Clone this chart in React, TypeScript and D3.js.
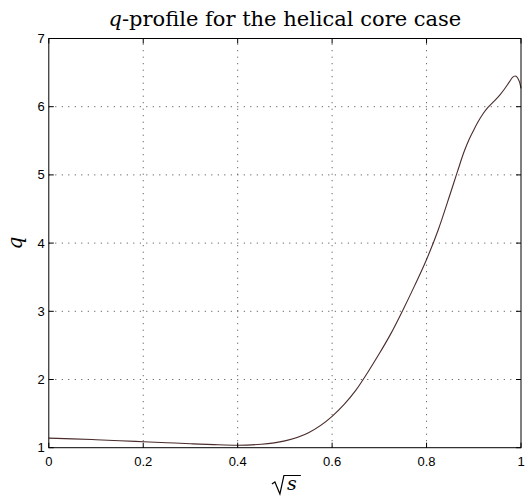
import React from "react";
import * as d3 from "d3";

// sqrt(s) positions and the safety factor q sampled along the profile
const sqrtS = [0, 0.05, 0.1, 0.15, 0.2, 0.25, 0.3, 0.35, 0.4, 0.45, 0.5, 0.55, 0.6, 0.625, 0.65, 0.675, 0.7, 0.725, 0.75, 0.775, 0.8, 0.825, 0.85, 0.865, 0.88, 0.89, 0.9, 0.91, 0.92, 0.93, 0.94, 0.955, 0.965, 0.975, 0.982, 0.988, 0.993, 0.997, 1.0];
const qValues = [1.14, 1.13, 1.117, 1.103, 1.088, 1.073, 1.058, 1.045, 1.037, 1.05, 1.1, 1.22, 1.46, 1.63, 1.84, 2.1, 2.38, 2.68, 3.02, 3.38, 3.76, 4.2, 4.72, 5.04, 5.35, 5.52, 5.66, 5.79, 5.9, 5.99, 6.06, 6.17, 6.26, 6.36, 6.43, 6.45, 6.42, 6.36, 6.27];

const xTicks = [0, 0.2, 0.4, 0.6, 0.8, 1];
const xTickLabels = ["0", "0.2", "0.4", "0.6", "0.8", "1"];
const yTicks = [1, 2, 3, 4, 5, 6, 7];
const yTickLabels = ["1", "2", "3", "4", "5", "6", "7"];

const W = 525;
const H = 496;
const left = 48.8;
const right = 521;
const top = 38.5;
const bottom = 447.7;

export default function App() {
  const x = d3.scaleLinear().domain([0, 1]).range([left, right]);
  const y = d3.scaleLinear().domain([1, 7]).range([bottom, top]);
  const pts: [number, number][] = sqrtS.map((s, i) => [s, qValues[i]]);
  const line = d3
    .line<[number, number]>()
    .x((d) => x(d[0]))
    .y((d) => y(d[1]))
    .curve(d3.curveMonotoneX);

  const tickLen = 5;
  const tickFont = "Liberation Sans, Arial, sans-serif";
  const serif = "DejaVu Serif, serif";
  const cx = (left + right) / 2;

  return (
    <svg
      width={W}
      height={H}
      viewBox={`0 0 ${W} ${H}`}
      style={{ position: "absolute", left: 0, top: 0, background: "#fff" }}
    >
      <rect x={0} y={0} width={W} height={H} fill="#fff" />
      {/* dotted grid */}
      <g stroke="#444" strokeWidth={1} strokeDasharray="1,5.5">
        {xTicks.slice(1, -1).map((t) => (
          <line key={`gx${t}`} x1={x(t)} x2={x(t)} y1={bottom} y2={top} />
        ))}
        {yTicks.slice(1, -1).map((t) => (
          <line key={`gy${t}`} x1={left} x2={right} y1={y(t)} y2={y(t)} />
        ))}
      </g>
      {/* profile curve */}
      <path d={line(pts) ?? ""} fill="none" stroke="#4a2c2c" strokeWidth={1.1} />
      {/* axes box */}
      <rect x={left} y={top} width={right - left} height={bottom - top} fill="none" stroke="#000" strokeWidth={1} />
      {/* inward ticks on all sides */}
      <g stroke="#000" strokeWidth={1}>
        {xTicks.map((t) => (
          <g key={`tx${t}`}>
            <line x1={x(t)} x2={x(t)} y1={bottom} y2={bottom - tickLen} />
            <line x1={x(t)} x2={x(t)} y1={top} y2={top + tickLen} />
          </g>
        ))}
        {yTicks.map((t) => (
          <g key={`ty${t}`}>
            <line x1={left} x2={left + tickLen} y1={y(t)} y2={y(t)} />
            <line x1={right} x2={right - tickLen} y1={y(t)} y2={y(t)} />
          </g>
        ))}
      </g>
      {/* tick labels */}
      <g fontFamily={tickFont} fontSize={13} fill="#000">
        {xTicks.map((t, i) => (
          <text key={`lx${t}`} x={x(t)} y={466} textAnchor="middle">
            {xTickLabels[i]}
          </text>
        ))}
        {yTicks.map((t, i) => (
          <text key={`ly${t}`} x={left - 4} y={y(t) + 4.5} textAnchor="end">
            {yTickLabels[i]}
          </text>
        ))}
      </g>
      {/* title */}
      <text x={cx} y={26} textAnchor="middle" fontFamily={serif} fontSize={21} fill="#000">
        <tspan fontStyle="italic">q</tspan>-profile for the helical core case
      </text>
      {/* x label: sqrt(s) */}
      <g fontFamily={serif} fill="#000">
        <text x={cx + 7} y={490} textAnchor="middle" fontSize={19} fontStyle="italic">
          s
        </text>
        <path
          d={`M ${cx - 13} 484 L ${cx - 10} 482 L ${cx - 5} 494 L ${cx - 1} 475.5 L ${cx + 16} 475.5`}
          fill="none"
          stroke="#000"
          strokeWidth={1.2}
        />
      </g>
      {/* y label */}
      <text
        x={0}
        y={0}
        transform={`translate(22, ${(top + bottom) / 2}) rotate(-90)`}
        textAnchor="middle"
        fontFamily={serif}
        fontSize={20}
        fontStyle="italic"
        fill="#000"
      >
        q
      </text>
    </svg>
  );
}
